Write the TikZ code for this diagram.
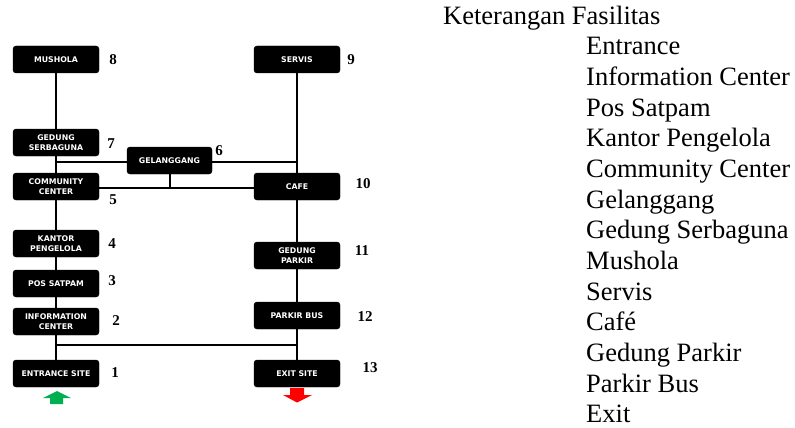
\documentclass[tikz,border=0pt]{standalone}
\usepackage{fontspec}
\setmainfont{Liberation Serif}
\newfontfamily\boxfont{DejaVu Sans}
\definecolor{entrygreen}{RGB}{0,176,80}
\definecolor{exitred}{RGB}{255,0,0}
\begin{document}
\begin{tikzpicture}[x=1pt,y=-1pt,
  fac/.style={rectangle, rounded corners=3pt, fill=black, draw=black,
    minimum width=86pt, minimum height=27pt, inner sep=0pt, text=white,
    align=center, font=\boxfont\bfseries\fontsize{7.8}{9.8}\selectfont},
  num/.style={font=\bfseries\fontsize{15}{15}\selectfont, inner sep=0pt},
  link/.style={line width=2pt},
  leg/.style={anchor=base west, inner sep=0pt, font=\fontsize{26.5}{30}\selectfont}]
\useasboundingbox (0,0) rectangle (795,428);
% facility boxes
\node[fac] (mushola) at (56,59.5) {MUSHOLA};
\node[fac] (servis) at (297,59.5) {SERVIS};
\node[fac] (serbaguna) at (56,142.5) {GEDUNG\\SERBAGUNA};
\node[fac, minimum width=85pt] (gelanggang) at (169.5,160.5) {GELANGGANG};
\node[fac] (community) at (56,186.5) {COMMUNITY\\CENTER};
\node[fac] (cafe) at (297,186.5) {CAFE};
\node[fac] (kantor) at (56,243.5) {KANTOR\\PENGELOLA};
\node[fac] (satpam) at (56,283.5) {POS SATPAM};
\node[fac] (info) at (56,321.5) {INFORMATION\\CENTER};
\node[fac] (entrance) at (56,373.5) {ENTRANCE SITE};
\node[fac] (gparkir) at (297,255.5) {GEDUNG\\PARKIR};
\node[fac] (bus) at (297,315.5) {PARKIR BUS};
\node[fac] (exit) at (297,373.5) {EXIT SITE};
% numbers
\node[num] (n8) at (113,60) {8};
\node[num] (n9) at (351,60) {9};
\node[num] (n7) at (111,144) {7};
\node[num] (n6) at (219,151) {6};
\node[num] (n5) at (113,200) {5};
\node[num] (n10) at (363,184) {10};
\node[num] (n4) at (112,244) {4};
\node[num] (n3) at (112,281) {3};
\node[num] (n2) at (116,321) {2};
\node[num] (n1) at (115,373) {1};
\node[num] (n11) at (362,251) {11};
\node[num] (n12) at (365,317) {12};
\node[num] (n13) at (370,368) {13};
% connectors
\begin{scope}[link]
\draw (mushola) -- (serbaguna);
\draw (serbaguna) -- (community);
\draw (community) -- (kantor);
\draw (kantor) -- (satpam);
\draw (satpam) -- (info);
\draw (info) -- (entrance);
\draw (servis) -- (cafe);
\draw (cafe) -- (gparkir);
\draw (gparkir) -- (bus);
\draw (bus) -- (exit);
\coordinate (jl) at (56,162);
\coordinate (jr) at (297,162);
\draw (jl) -- (jl -| gelanggang.west);
\draw (jr -| gelanggang.east) -- (jr);
\draw (community.east |- 0,188) -- (cafe.west |- 0,188);
\draw (gelanggang.south) -- (gelanggang.south |- 0,188);
\coordinate (bl) at (56,345);
\coordinate (br) at (297,345);
\draw (bl) -- (br);
\end{scope}
% entrance / exit arrows
\fill[entrygreen] (43,398) -- (50,398) -- (50,404) -- (63,404) -- (63,398) -- (71,398) -- (57,391) -- cycle;
\fill[exitred] (290,388) -- (304,388) -- (304,395) -- (312,395) -- (297,402.5) -- (283,395) -- (290,395) -- cycle;
% legend
\node[leg] (ltitle) at (443,25) {Keterangan Fasilitas};
\node[leg] (l1) at (586,55) {Entrance};
\node[leg] (l2) at (586,85.6) {Information Center};
\node[leg] (l3) at (586,116.3) {Pos Satpam};
\node[leg] (l4) at (586,146.9) {Kantor Pengelola};
\node[leg] (l5) at (586,177.6) {Community Center};
\node[leg] (l6) at (586,208.2) {Gelanggang};
\node[leg] (l7) at (586,238.8) {Gedung Serbaguna};
\node[leg] (l8) at (586,269.5) {Mushola};
\node[leg] (l9) at (586,300.1) {Servis};
\node[leg] (l10) at (586,330.8) {Café};
\node[leg] (l11) at (586,361.4) {Gedung Parkir};
\node[leg] (l12) at (586,392.0) {Parkir Bus};
\node[leg] (l13) at (586,422.7) {Exit};
\end{tikzpicture}
\end{document}
